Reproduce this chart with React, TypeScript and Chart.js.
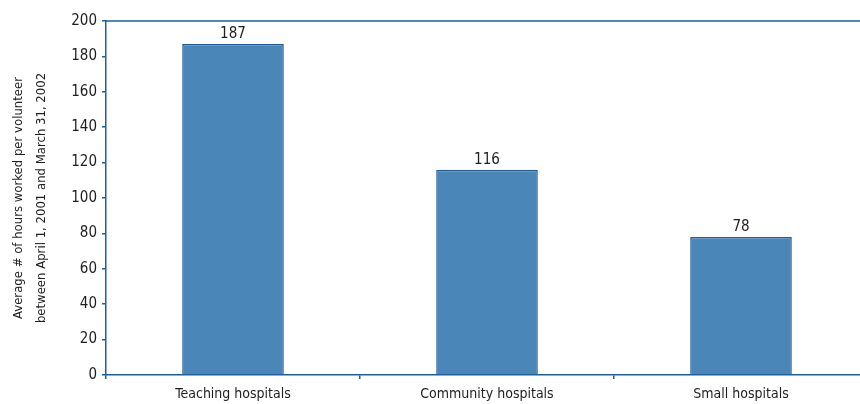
import React, { useEffect, useRef } from "react";
import { Chart, registerables } from "chart.js";

Chart.register(...registerables);

const categories = ["Teaching hospitals", "Community hospitals", "Small hospitals"];
const hours = [187, 116, 78];
const yTitleLines = [
  "Average # of hours worked per volunteer",
  "between April 1, 2001 and March 31, 2002",
];

const FONT = "'DejaVu Sans Condensed', 'Liberation Sans Narrow', 'Arial Narrow', sans-serif";
const AXIS = "#1d5e9e";
const TEXT = "#1e1e1e";

// Value labels above each bar plus the top frame line.
const barLabels = {
  id: "barLabels",
  afterDatasetsDraw(chart: any) {
    const { ctx, chartArea } = chart;
    ctx.save();
    ctx.strokeStyle = AXIS;
    ctx.lineWidth = 1.5;
    ctx.beginPath();
    ctx.moveTo(chartArea.left, chartArea.top);
    ctx.lineTo(chartArea.right, chartArea.top);
    ctx.stroke();

    const meta = chart.getDatasetMeta(0);
    ctx.fillStyle = TEXT;
    ctx.font = `15px ${FONT}`;
    ctx.textAlign = "center";
    ctx.textBaseline = "bottom";
    meta.data.forEach((bar: any, i: number) => {
      ctx.fillText(String(hours[i]), bar.x, bar.y - 2);
    });
    ctx.restore();
  },
};

export default function App() {
  const ref = useRef<HTMLCanvasElement>(null);

  useEffect(() => {
    if (!ref.current) return;
    const chart = new Chart(ref.current, {
      type: "bar",
      data: {
        labels: categories,
        datasets: [
          {
            data: hours,
            backgroundColor: "#4a86b8",
            borderColor: "#235e9b",
            borderWidth: 1.5,
            barPercentage: 0.4,
            categoryPercentage: 1,
          },
        ],
      },
      options: {
        animation: false,
        responsive: false,
        maintainAspectRatio: false,
        layout: { padding: { top: 21, left: 0, right: 0, bottom: 0 } },
        plugins: {
          legend: { display: false },
          tooltip: { enabled: false },
        },
        scales: {
          x: {
            offset: true,
            grid: {
              offset: true,
              drawOnChartArea: false,
              drawTicks: true,
              tickLength: 4,
              color: AXIS,
              lineWidth: 1.5,
            },
            border: { color: AXIS, width: 1.5 },
            ticks: {
              color: TEXT,
              font: { family: FONT, size: 14 },
              padding: 7,
              maxRotation: 0,
            },
            afterFit(scale: any) {
              scale.height = 29;
            },
          },
          y: {
            min: 0,
            max: 200,
            ticks: {
              stepSize: 20,
              color: TEXT,
              font: { family: FONT, size: 15 },
              padding: 5,
            },
            grid: {
              drawOnChartArea: false,
              drawTicks: true,
              tickLength: 4,
              color: AXIS,
              lineWidth: 1.5,
            },
            border: { color: AXIS, width: 1.5 },
            title: {
              display: true,
              text: yTitleLines,
              color: TEXT,
              font: { family: FONT, size: 13, lineHeight: 1.7 },
              padding: { top: 8, bottom: 6 },
            },
            afterFit(scale: any) {
              scale.width = 106;
            },
          },
        },
      },
      plugins: [barLabels],
    });
    return () => chart.destroy();
  }, []);

  return (
    <div
      style={{
        position: "fixed",
        left: 0,
        top: 0,
        width: 860,
        height: 404,
        overflow: "hidden",
        background: "#fff",
      }}
    >
      <canvas ref={ref} width={868} height={404} style={{ display: "block" }} />
    </div>
  );
}
